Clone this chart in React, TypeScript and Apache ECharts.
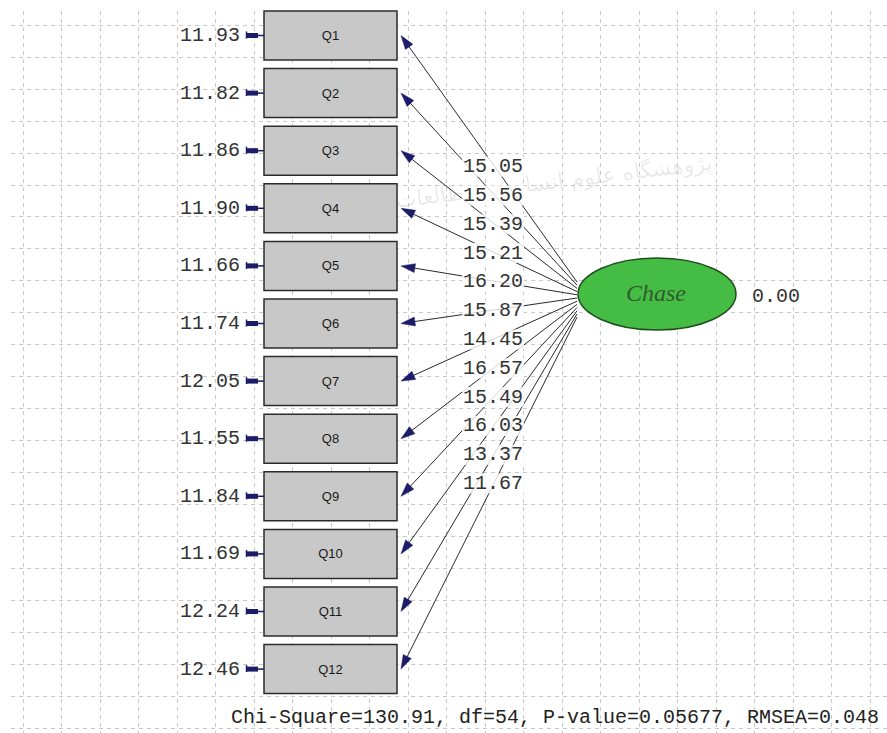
import React, { useEffect, useRef } from "react";
import * as echarts from "echarts";

// ---------- data ----------
const indicators = ["Q1", "Q2", "Q3", "Q4", "Q5", "Q6", "Q7", "Q8", "Q9", "Q10", "Q11", "Q12"];
const errorVariances = [11.93, 11.82, 11.86, 11.9, 11.66, 11.74, 12.05, 11.55, 11.84, 11.69, 12.24, 12.46];
const loadings = [15.05, 15.56, 15.39, 15.21, 16.2, 15.87, 14.45, 16.57, 15.49, 16.03, 13.37, 11.67];
const latentName = "Chase";
const latentVariance = 0.0;
const chiSquare = 130.91;
const degreesOfFreedom = 54;
const pValue = 0.05677;
const rmsea = 0.048;

// ---------- layout ----------
const W = 887;
const H = 733;
const BOX_LEFT = 264;
const BOX_RIGHT = 397;
const BOX_H = 49;
const BOX_CY0 = 35.5;
const BOX_PITCH = 57.6;
const ELL_CX = 657;
const ELL_CY = 294;
const ELL_RX = 79;
const ELL_RY = 36;
const LOAD_X = 462;
const LOAD_Y0 = 166.7;
const LOAD_STEP = 28.8;
const GRID_X0 = 23;
const GRID_DX = 38.5;
const GRID_Y0 = 25;
const GRID_DY = 31.95;

const MONO = "'Liberation Mono', 'Courier New', monospace";
const NAVY = "#1c1c6b";
const GRID_LINE = { show: true, lineStyle: { color: "#c8c8c8", type: [4, 4], width: 1 } };

export default function App() {
  const ref = useRef<HTMLDivElement>(null);

  useEffect(() => {
    if (!ref.current) return;
    const chart = echarts.init(ref.current, null, { renderer: "svg" });

    const boxCy = (i: number) => BOX_CY0 + i * BOX_PITCH;
    const hidden = {
      axisLine: { show: false },
      axisTick: { show: false },
      axisLabel: { show: false },
    };

    const option: any = {
      animation: false,
      backgroundColor: "#ffffff",
      title: {
        text: `Chi-Square=${chiSquare}, df=${degreesOfFreedom}, P-value=${pValue}, RMSEA=${rmsea}`,
        left: 231,
        top: 707,
        padding: 0,
        textStyle: { fontFamily: MONO, fontSize: 20, fontWeight: "normal", color: "#222" },
      },
      grid: [
        { left: 0, top: 0, right: 0, bottom: 0 },
        { left: 11, top: GRID_Y0, right: 0, bottom: 0 },
        { left: GRID_X0, top: 11, right: 0, bottom: 0 },
      ],
      xAxis: [
        { type: "value", gridIndex: 0, min: 0, max: W, show: false },
        { type: "value", gridIndex: 1, min: 0, max: 10, ...hidden, splitLine: { show: false } },
        {
          type: "value",
          gridIndex: 2,
          min: 0,
          max: (W - GRID_X0) / GRID_DX,
          interval: 1,
          ...hidden,
          splitLine: GRID_LINE,
        },
      ],
      yAxis: [
        { type: "value", gridIndex: 0, min: 0, max: H, inverse: true, show: false },
        {
          type: "value",
          gridIndex: 1,
          min: 0,
          max: (H - GRID_Y0) / GRID_DY,
          interval: 1,
          inverse: true,
          ...hidden,
          splitLine: GRID_LINE,
        },
        { type: "value", gridIndex: 2, min: 0, max: 10, inverse: true, ...hidden, splitLine: { show: false } },
      ],
      graphic: [
        {
          type: "text",
          x: 515,
          y: 186,
          rotation: 0.12,
          z: -1,
          style: {
            text: "پژوهشگاه علوم انسانی و مطالعات فرهنگی",
            fill: "rgba(0,0,0,0.09)",
            fontSize: 22,
            fontFamily: "'DejaVu Sans', sans-serif",
            textAlign: "center",
            textVerticalAlign: "middle",
          },
        },
      ],
      series: [
        {
          type: "custom",
          name: "loadings",
          coordinateSystem: "cartesian2d",
          xAxisIndex: 0,
          yAxisIndex: 0,
          z: 2,
          data: loadings.map((v, i) => [i, v]),
          renderItem: (params: any, api: any) => {
            const i = api.value(0);
            const tip = api.coord([BOX_RIGHT + 4, boxCy(i)]);
            const start = api.coord([ELL_CX - ELL_RX - 1, ELL_CY - 12 + i * 3.2]);
            const dx = tip[0] - start[0];
            const dy = tip[1] - start[1];
            const len = Math.sqrt(dx * dx + dy * dy);
            const ux = dx / len;
            const uy = dy / len;
            const aL = 14;
            const aW = 4.5;
            const bx = tip[0] - ux * aL;
            const by = tip[1] - uy * aL;
            const nx = -uy;
            const ny = ux;
            return {
              type: "group",
              children: [
                {
                  type: "line",
                  shape: { x1: start[0], y1: start[1], x2: bx + ux * 2, y2: by + uy * 2 },
                  style: { stroke: "#2a2a2a", lineWidth: 1 },
                },
                {
                  type: "polygon",
                  shape: {
                    points: [
                      [tip[0], tip[1]],
                      [bx + nx * aW, by + ny * aW],
                      [bx - nx * aW, by - ny * aW],
                    ],
                  },
                  style: { fill: NAVY, stroke: NAVY, lineWidth: 0.5 },
                },
              ],
            };
          },
        },
        {
          type: "custom",
          name: "loading labels",
          coordinateSystem: "cartesian2d",
          xAxisIndex: 0,
          yAxisIndex: 0,
          z: 3,
          data: loadings.map((v, i) => [i, v]),
          renderItem: (params: any, api: any) => {
            const i = api.value(0);
            const v = api.value(1);
            const lab = api.coord([LOAD_X, LOAD_Y0 + i * LOAD_STEP]);
            return {
              type: "text",
              style: {
                text: v.toFixed(2),
                x: lab[0],
                y: lab[1],
                fill: "#333",
                fontFamily: MONO,
                fontSize: 20,
                align: "left",
                verticalAlign: "middle",
                backgroundColor: "rgba(255,255,255,0.8)",
                padding: [0, 1],
              },
            };
          },
        },
        {
          type: "custom",
          name: "indicators",
          coordinateSystem: "cartesian2d",
          xAxisIndex: 0,
          yAxisIndex: 0,
          z: 3,
          data: errorVariances.map((v, i) => [i, v]),
          renderItem: (params: any, api: any) => {
            const i = api.value(0);
            const v = api.value(1);
            const cy = boxCy(i);
            const p0 = api.coord([BOX_LEFT, cy - BOX_H / 2]);
            const p1 = api.coord([BOX_RIGHT, cy + BOX_H / 2]);
            const c = api.coord([(BOX_LEFT + BOX_RIGHT) / 2, cy]);
            const lab = api.coord([240, cy]);
            const e0 = api.coord([246, cy]);
            const e1 = api.coord([258, cy]);
            return {
              type: "group",
              children: [
                {
                  type: "rect",
                  shape: { x: p0[0], y: p0[1], width: p1[0] - p0[0], height: p1[1] - p0[1] },
                  style: { fill: "#c8c8c8", stroke: "#2b2b2b", lineWidth: 1.5 },
                },
                {
                  type: "text",
                  style: {
                    text: indicators[i],
                    x: c[0],
                    y: c[1],
                    fill: "#1a1a1a",
                    fontFamily: "'Liberation Sans', Arial, sans-serif",
                    fontSize: 13,
                    align: "center",
                    verticalAlign: "middle",
                  },
                },
                {
                  type: "text",
                  style: {
                    text: v.toFixed(2),
                    x: lab[0],
                    y: lab[1],
                    fill: "#333",
                    fontFamily: MONO,
                    fontSize: 20,
                    align: "right",
                    verticalAlign: "middle",
                  },
                },
                {
                  type: "rect",
                  shape: { x: e0[0], y: e0[1] - 2.5, width: e1[0] - e0[0], height: 5 },
                  style: { fill: NAVY },
                },
                {
                  type: "line",
                  shape: { x1: e0[0] + 0.5, y1: e0[1] - 4, x2: e0[0] + 0.5, y2: e0[1] + 3 },
                  style: { stroke: NAVY, lineWidth: 1.5 },
                },
                {
                  type: "line",
                  shape: { x1: e1[0], y1: e1[1], x2: p0[0], y2: e1[1] },
                  style: { stroke: NAVY, lineWidth: 1.5 },
                },
              ],
            };
          },
        },
        {
          type: "custom",
          name: "latent",
          coordinateSystem: "cartesian2d",
          xAxisIndex: 0,
          yAxisIndex: 0,
          z: 4,
          data: [[0, latentVariance]],
          renderItem: (params: any, api: any) => {
            const c = api.coord([ELL_CX, ELL_CY]);
            const r = api.coord([ELL_CX + ELL_RX, ELL_CY + ELL_RY]);
            const vl = api.coord([752, ELL_CY + 2]);
            return {
              type: "group",
              children: [
                {
                  type: "ellipse",
                  shape: { cx: c[0], cy: c[1], rx: r[0] - c[0], ry: r[1] - c[1] },
                  style: { fill: "#45bd45", stroke: "#1f4f1f", lineWidth: 1.5 },
                },
                {
                  type: "text",
                  style: {
                    text: latentName,
                    x: c[0] - 1,
                    y: c[1] - 1,
                    fill: "#2f5a2f",
                    fontFamily: "'Liberation Serif', 'Times New Roman', serif",
                    fontStyle: "italic",
                    fontSize: 24,
                    align: "center",
                    verticalAlign: "middle",
                  },
                },
                {
                  type: "text",
                  style: {
                    text: api.value(1).toFixed(2),
                    x: vl[0],
                    y: vl[1],
                    fill: "#333",
                    fontFamily: MONO,
                    fontSize: 20,
                    align: "left",
                    verticalAlign: "middle",
                  },
                },
              ],
            };
          },
        },
      ],
    };

    chart.setOption(option);
    return () => {
      chart.dispose();
    };
  }, []);

  return (
    <div
      ref={ref}
      style={{ position: "fixed", left: 0, top: 0, width: W, height: H, background: "#fff" }}
    />
  );
}
